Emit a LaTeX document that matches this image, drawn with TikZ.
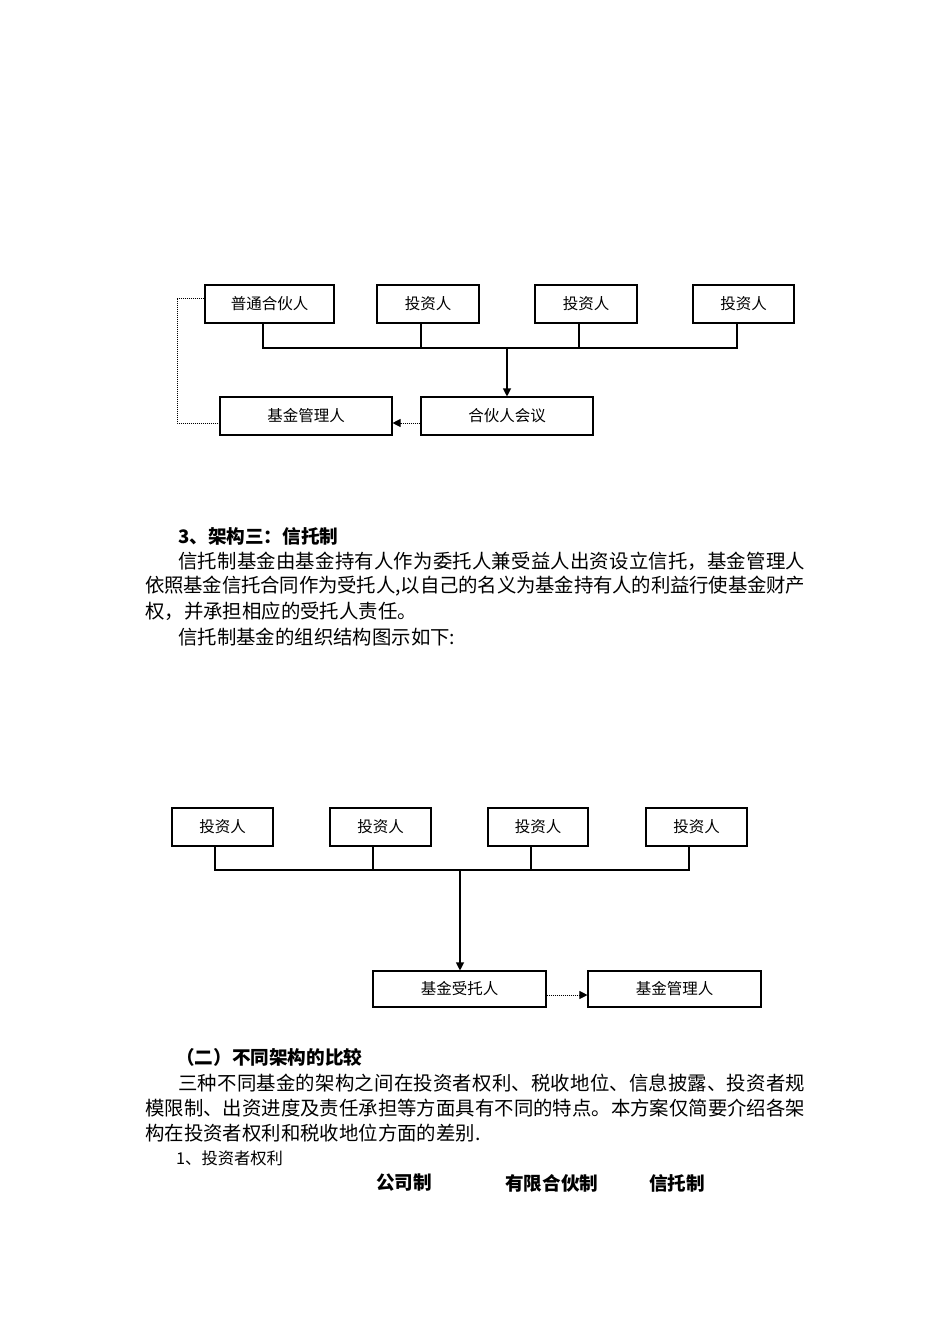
\documentclass[tikz,border=0pt]{standalone}
\usepackage{fontspec}
\setmainfont{Noto Sans CJK SC}
\usetikzlibrary{arrows.meta}
\newcommand\jline[2]{\parbox{#1}{\XeTeXlinebreaklocale "zh"\XeTeXlinebreakskip=0pt plus 4pt minus 0.7pt\parfillskip=0pt\parindent=0pt\relax #2}}
\begin{document}
\begin{tikzpicture}[x=1pt,y=-1pt,
 box/.style={draw,line width=1.1pt,inner sep=0pt,minimum height=38pt,font=\fontsize{15.5}{16}\selectfont},
 ln/.style={line width=1.1pt},
 dot/.style={line width=1pt,densely dotted},
 tip/.style={-{Triangle[length=8pt,width=8pt]}},
 body/.style={anchor=west,inner sep=0pt,font=\fontsize{19.4}{20}\selectfont},
 small/.style={anchor=west,inner sep=0pt,font=\fontsize{16.3}{17}\selectfont},
 head/.style={anchor=west,inner sep=0pt,font=\fontsize{18.6}{19}\bfseries\selectfont}]
\useasboundingbox[fill=white] (0,0) rectangle (950,1344);

% ---------- diagram 1 ----------
\node[box,minimum width=129pt] (gp) at (269.5,304) {普通合伙人};
\node[box,minimum width=102pt] (i1) at (428,304) {投资人};
\node[box,minimum width=102pt] (i2) at (586,304) {投资人};
\node[box,minimum width=101pt] (i3) at (743.5,304) {投资人};
\node[box,minimum width=172pt] (mgr) at (306,416) {基金管理人};
\node[box,minimum width=172pt] (mtg) at (507,416) {合伙人会议};
\coordinate (bus1) at (507,348);
\coordinate (lft) at (177,348);

\draw[ln] ([xshift=-6.5pt]gp.south) |- ([xshift=-6.5pt]i3.south |- bus1) -- ([xshift=-6.5pt]i3.south);
\draw[ln] ([xshift=-7pt]i1.south) -- ([xshift=-7pt]i1.south |- bus1);
\draw[ln] ([xshift=-7pt]i2.south) -- ([xshift=-7pt]i2.south |- bus1);
\draw[ln,tip] (bus1) -- (bus1 |- mtg.north);
\draw[dot,tip] ([yshift=-7pt]mtg.west) -- ([yshift=-7pt]mgr.east);
\draw[dot] ([yshift=6pt]gp.west) -| ([yshift=-7pt]lft |- mgr.west) -- ([yshift=-7pt]mgr.west);

% ---------- text 1 ----------
\node[head] (h1) at (178,536) {3、架构三：信托制};
\node[body] (p1) at (178,561) {\jline{627pt}{信托制基金由基金持有人作为委托人兼受益人出资设立信托，基金管理人}};
\node[body] (p2) at (145,586) {\jline{660pt}{依照基金信托合同作为受托人,以自己的名义为基金持有人的利益行使基金财产}};
\node[body] (p3) at (145,611) {权，并承担相应的受托人责任。};
\node[body] (p4) at (178,637) {信托制基金的组织结构图示如下:};

% ---------- diagram 2 ----------
\node[box,minimum width=101pt] (b1) at (222.5,827) {投资人};
\node[box,minimum width=101pt] (b2) at (380.5,827) {投资人};
\node[box,minimum width=100pt] (b3) at (538,827) {投资人};
\node[box,minimum width=101pt] (b4) at (696.5,827) {投资人};
\node[box,minimum width=173pt,minimum height=36pt] (tr) at (459.5,989) {基金受托人};
\node[box,minimum width=173pt,minimum height=36pt] (mg2) at (674.5,989) {基金管理人};
\coordinate (bus2) at (460,870);

\draw[ln] ([xshift=-7.5pt]b1.south) |- ([xshift=-7.5pt]b4.south |- bus2) -- ([xshift=-7.5pt]b4.south);
\draw[ln] ([xshift=-7.5pt]b2.south) -- ([xshift=-7.5pt]b2.south |- bus2);
\draw[ln] ([xshift=-7pt]b3.south) -- ([xshift=-7pt]b3.south |- bus2);
\draw[ln,tip] (bus2) -- (bus2 |- tr.north);
\draw[dot,tip] ([yshift=-6pt]tr.east) -- ([yshift=-6pt]mg2.west);

% ---------- text 2 ----------
\node[head] (h2) at (176,1057) {（二）不同架构的比较};
\node[body] (q1) at (178,1083) {\jline{627pt}{三种不同基金的架构之间在投资者权利、税收地位、信息披露、投资者规}};
\node[body] (q2) at (145,1108) {\jline{660pt}{模限制、出资进度及责任承担等方面具有不同的特点。本方案仅简要介绍各架}};
\node[body] (q3) at (145,1133) {构在投资者权利和税收地位方面的差别.};
\node[small] (q4) at (176,1158) {1、投资者权利};
\node[head] (c1) at (376,1183) {公司制};
\node[head] (c2) at (505,1183) {有限合伙制};
\node[head] (c3) at (649,1183) {信托制};
\end{tikzpicture}
\end{document}
